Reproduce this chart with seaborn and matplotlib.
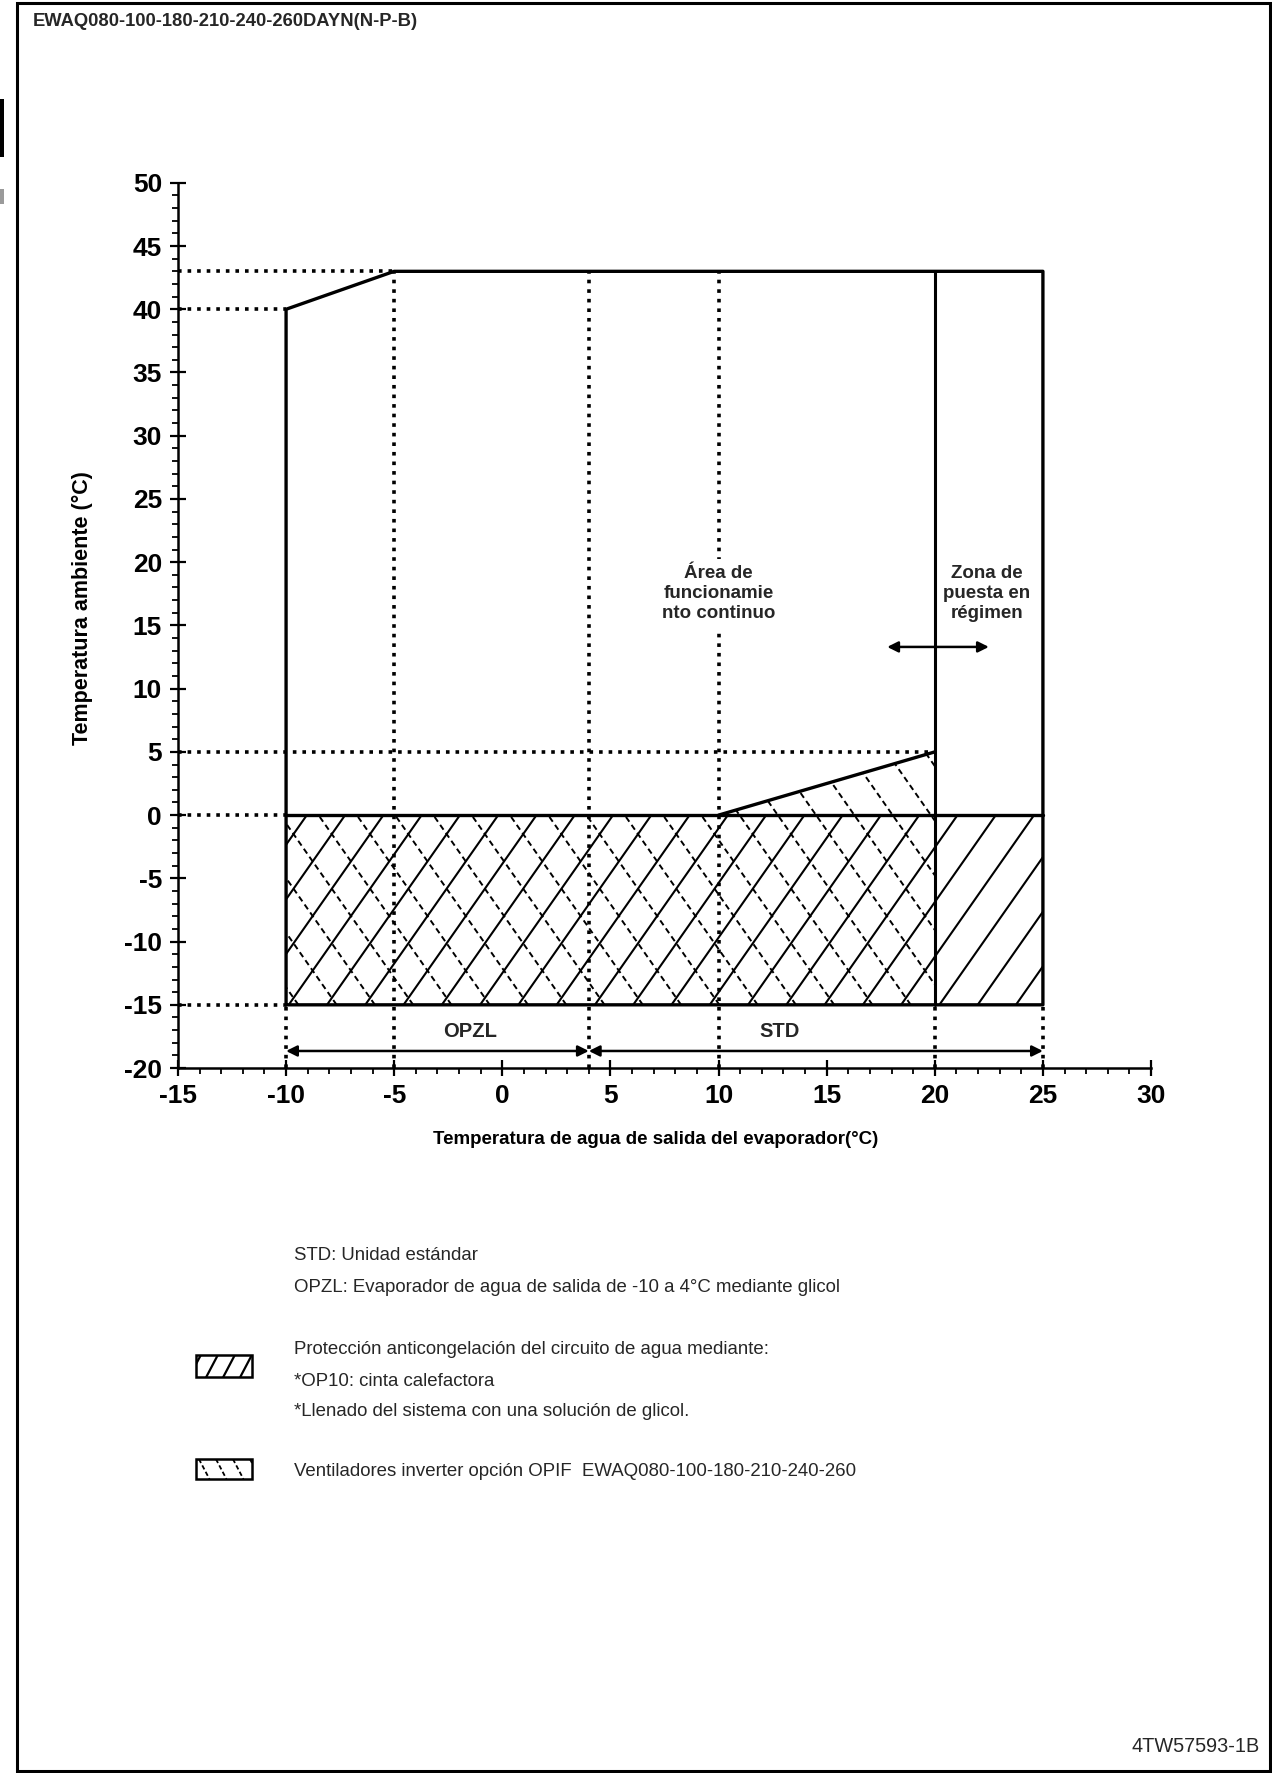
import numpy as np
import matplotlib
matplotlib.use("Agg")
import matplotlib.pyplot as plt
from matplotlib.patches import Polygon, Rectangle
from matplotlib.ticker import MultipleLocator
import pandas as pd
import seaborn as sns

# --- operating envelope (leaving water temp vs ambient temp) ---
ENV_X = [-10, -10, -5, 25, 25, -10]
ENV_Y = [-15, 40, 43, 43, -15, -15]
ZERO_X = [-10, 25]            # y = 0 boundary
STARTUP_X = 20                # start-up zone boundary
RAMP_X = [10, 20]
RAMP_Y = [0, 5]

# hatched zones
ANTIFREEZE_X = [-10, 25, 25, -10]
ANTIFREEZE_Y = [-15, -15, 0, 0]
INVERTER_X = [-10, -10, 10, 20, 20]
INVERTER_Y = [-15, 0, 0, 5, -15]

# dotted guides: (y, x_end) from the y axis, (x, y_top) down to the x axis
H_GUIDES = [(43, -5), (40, -10), (5, 20), (0, -10), (-15, -10)]
V_GUIDES = [(-5, 43), (4, 43), (10, 43), (-10, -15), (20, -15), (25, -15)]

# ranges shown under the map
OPZL_RANGE = (-10, 4)
STD_RANGE = (4, 25)
STARTUP_ARROW = (17.8, 22.5)

XLIM = (-15, 30)
YLIM = (-20, 50)

TITLE = "EWAQ080-100-180-210-240-260DAYN(N-P-B)"
DOC_ID = "4TW57593-1B"
NOTES_TOP = ["STD: Unidad estándar",
             "OPZL: Evaporador de agua de salida de -10 a 4°C mediante glicol"]
NOTES_ANTIFREEZE = ["Protección anticongelación del circuito de agua mediante:",
                    "*OP10: cinta calefactora",
                    "*Llenado del sistema con una solución de glicol."]
NOTE_INVERTER = "Ventiladores inverter opción OPIF  EWAQ080-100-180-210-240-260"


def hatch_polygon(ax, xs, ys, slope, step, offset, **kw):
    """Fill a polygon with parallel lines y = slope*(x - c), clipped to it."""
    clip = Polygon(np.column_stack([xs, ys]), closed=True, fill=False,
                   edgecolor="none", lw=0)
    ax.add_patch(clip)
    ymin, ymax = min(ys), max(ys)
    cs = [x - y / slope for x, y in zip(xs, ys)]
    k0 = int(np.floor((min(cs) - offset) / step)) - 1
    k1 = int(np.ceil((max(cs) - offset) / step)) + 1
    for k in range(k0, k1 + 1):
        c = offset + k * step
        ln, = ax.plot([c + ymin / slope, c + ymax / slope], [ymin, ymax], **kw)
        ln.set_clip_path(clip)


sns.set_theme(style="white")
plt.rcParams["font.family"] = ["Liberation Sans", "DejaVu Sans"]
plt.rcParams["axes.unicode_minus"] = False

fig = plt.figure(figsize=(12.72, 17.73), dpi=100)
ax = fig.add_axes([0.1399, 0.3976, 0.7650, 0.4993])

# hatching
hatch_polygon(ax, ANTIFREEZE_X, ANTIFREEZE_Y, 2.44, 1.77, 21.05,
              color="black", lw=1.5, zorder=1)
hatch_polygon(ax, INVERTER_X, INVERTER_Y, -2.44, 1.77, -8.5,
              color="black", lw=1.4, ls=(0, (3, 2)), zorder=1)

# dotted guides
for y, xe in H_GUIDES:
    ax.plot([XLIM[0], xe], [y, y], color="black", lw=2.6, ls=":", zorder=2)
for x, yt in V_GUIDES:
    ax.plot([x, x], [YLIM[0], yt], color="black", lw=2.6, ls=":", zorder=2)

# envelope and inner boundaries
env = pd.DataFrame({"x": ENV_X, "y": ENV_Y})
sns.lineplot(data=env, x="x", y="y", sort=False, estimator=None, ax=ax,
             color="black", lw=2.4, zorder=3)
ax.plot(ZERO_X, [0, 0], color="black", lw=2.4, zorder=3)
ax.plot([STARTUP_X, STARTUP_X], [ENV_Y[0], ENV_Y[2]], color="black", lw=2.2, zorder=3)
ax.plot(RAMP_X, RAMP_Y, color="black", lw=2.4, zorder=3)

# range arrows
arrow_kw = dict(arrowstyle="<|-|>", color="black", lw=1.8, mutation_scale=16,
                shrinkA=0, shrinkB=0)
for lo, hi in (OPZL_RANGE, STD_RANGE):
    ax.annotate("", xy=(hi, -18.65), xytext=(lo, -18.65), arrowprops=arrow_kw, zorder=4)
ax.annotate("", xy=(STARTUP_ARROW[1], 13.3), xytext=(STARTUP_ARROW[0], 13.3),
            arrowprops=arrow_kw, zorder=4)

ax.text(-1.5, -17.1, "OPZL", ha="center", va="center", fontsize=14.5, fontweight="bold")
ax.text(12.8, -17.1, "STD", ha="center", va="center", fontsize=14.5, fontweight="bold")
ax.text(10, 17.5, "Área de\nfuncionamie\nnto continuo", ha="center", va="center",
        fontsize=13.5, fontweight="bold", linespacing=1.22, zorder=5,
        bbox=dict(facecolor="white", edgecolor="none", pad=5))
ax.text(22.4, 17.5, "Zona de\npuesta en\nrégimen", ha="center", va="center",
        fontsize=13.5, fontweight="bold", linespacing=1.22, zorder=5)

# axes styling
ax.set_xlim(*XLIM)
ax.set_ylim(*YLIM)
ax.xaxis.set_major_locator(MultipleLocator(5))
ax.yaxis.set_major_locator(MultipleLocator(5))
ax.xaxis.set_minor_locator(MultipleLocator(1))
ax.yaxis.set_minor_locator(MultipleLocator(1))
for side in ("top", "right"):
    ax.spines[side].set_visible(False)
for side in ("left", "bottom"):
    ax.spines[side].set_linewidth(1.8)
    ax.spines[side].set_color("black")
ax.tick_params(which="both", bottom=True, left=True, top=False, right=False)
ax.tick_params(which="major", direction="inout", length=11, width=1.6,
               labelsize=19, colors="black")
ax.tick_params(which="minor", direction="out", length=4.5, width=1.3, colors="black")
ax.tick_params(axis="x", which="major", pad=6)
ax.tick_params(axis="y", which="major", pad=6)
for lab in ax.get_xticklabels() + ax.get_yticklabels():
    lab.set_fontweight("bold")
ax.set_xlabel("Temperatura de agua de salida del evaporador(°C)", fontsize=13.5,
              fontweight="bold", color="black")
ax.set_ylabel("Temperatura ambiente (°C)", fontsize=15.5, fontweight="bold", color="black")
ax.xaxis.set_label_coords(0.491, -0.071)
ax.yaxis.set_label_coords(-0.087, 0.52)
ax.grid(False)
ax.set_facecolor("none")

# page overlay in pixel coordinates
ov = fig.add_axes([0, 0, 1, 1])
ov.set_xlim(0, 1272)
ov.set_ylim(1773, 0)
ov.set_axis_off()
ov.add_patch(Rectangle((17, 3), 1253, 1768, fill=False, edgecolor="black", lw=2.2))
ov.add_patch(Rectangle((0, 99), 4, 58, color="black", lw=0))
ov.add_patch(Rectangle((0, 189), 4, 15, color="#9a9a9a", lw=0))
ov.text(33, 21, TITLE, fontsize=13.2, fontweight="bold", va="center", ha="left")
ov.text(1260, 1747, DOC_ID, fontsize=14.3, va="center", ha="right")

for txt, y in zip(NOTES_TOP, (1255, 1288)):
    ov.text(294, y, txt, fontsize=13.4, va="center", ha="left")
for txt, y in zip(NOTES_ANTIFREEZE, (1349, 1381, 1412)):
    ov.text(294, y, txt, fontsize=13.4, va="center", ha="left")
ov.text(294, 1472, NOTE_INVERTER, fontsize=13.4, va="center", ha="left")

# legend swatches
box1 = ([196, 252, 252, 196], [1355, 1355, 1377, 1377])
box2 = ([196, 252, 252, 196], [1459, 1459, 1479, 1479])
hatch_polygon(ov, *box1, -1.9, 17, 200, color="black", lw=1.6)
hatch_polygon(ov, *box2, 1.9, 17, 196, color="black", lw=1.3, ls=(0, (2.5, 1.5)))
for bx, by in (box1, box2):
    ov.add_patch(Rectangle((bx[0], by[0]), bx[1] - bx[0], by[2] - by[0],
                           fill=False, edgecolor="black", lw=1.8))

fig.savefig("out.png", dpi=100)
